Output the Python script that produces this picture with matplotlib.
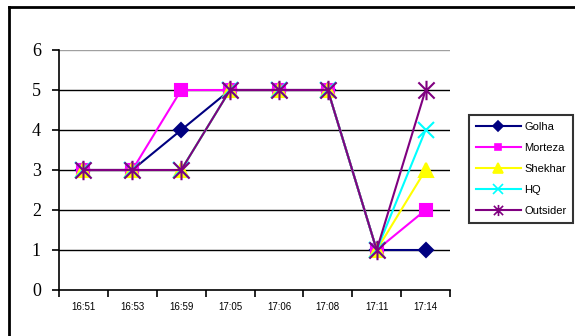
import matplotlib.pyplot as plt
from matplotlib.lines import Line2D
from matplotlib.path import Path


TIMES = ["16:51", "16:53", "16:59", "17:05", "17:06", "17:08", "17:11", "17:14"]

GOLHA = [3, 3, 4, 5, 5, 5, 1, 1]
MORTEZA = [3, 3, 5, 5, 5, 5, 1, 2]
SHEKHAR = [3, 3, 3, 5, 5, 5, 1, 3]
HQ = [3, 3, 3, 5, 5, 5, 1, 4]
OUTSIDER = [3, 3, 3, 5, 5, 5, 1, 5]

SERIES_NAMES = ["Golha", "Morteza", "Shekhar", "HQ", "Outsider"]

# x with a vertical bar through it
STAR = Path(
    [(-1, -1), (1, 1), (-1, 1), (1, -1), (0, -1.2), (0, 1.2)],
    [Path.MOVETO, Path.LINETO, Path.MOVETO, Path.LINETO, Path.MOVETO, Path.LINETO],
)


def main() -> None:
    fig = plt.figure(figsize=(5.75, 3.36), dpi=100)
    ax = fig.add_axes([59 / 575, 1 - 290 / 336, 391 / 575, 240 / 336])

    # outer frame, only top and left edges are visible
    fig.add_artist(Line2D([9 / 575, 9 / 575], [0, 1 - 7 / 336],
                          transform=fig.transFigure, color="black", lw=2))
    fig.add_artist(Line2D([9 / 575, 1], [1 - 7 / 336, 1 - 7 / 336],
                          transform=fig.transFigure, color="black", lw=2))

    x = list(range(len(TIMES)))
    styles = [
        (GOLHA, "#000080", "D", 7, 5),
        (MORTEZA, "#FF00FF", "s", 8.5, 5),
        (SHEKHAR, "#FFFF00", "^", 10, 7),
        (HQ, "#00FFFF", "x", 11, 7),
        (OUTSIDER, "#800080", STAR, 14, 8),
    ]
    handles = []
    for (vals, color, marker, ms, legend_ms), name in zip(styles, SERIES_NAMES):
        ax.plot(x, vals, color=color, marker=marker, markersize=ms,
                markeredgewidth=1.5, lw=1.5, zorder=3)
        handles.append(Line2D([], [], color=color, marker=marker,
                              markersize=legend_ms, markeredgewidth=1.2,
                              lw=1.5, label=name))

    ax.set_xlim(-0.5, len(TIMES) - 0.5)
    ax.set_ylim(0, 6)

    for y in range(1, 6):
        ax.axhline(y, color="black", lw=1, zorder=1)
    ax.axhline(6, color="#a0a0a0", lw=1, zorder=1)

    for side in ["top", "right"]:
        ax.spines[side].set_visible(False)
    ax.spines["left"].set_linewidth(1.2)
    ax.spines["bottom"].set_linewidth(1.2)

    ax.set_yticks(range(0, 7))
    ax.set_yticklabels([str(v) for v in range(0, 7)],
                       family="Liberation Serif", fontsize=13)
    ax.tick_params(axis="y", length=5, width=1.2, pad=8)

    ax.set_xticks([i - 0.5 for i in range(len(TIMES) + 1)])
    ax.set_xticklabels([])
    ax.set_xticks(x, minor=True)
    ax.set_xticklabels(TIMES, minor=True, family="Liberation Sans", fontsize=7)
    ax.tick_params(axis="x", which="major", length=5, width=1.2)
    ax.tick_params(axis="x", which="minor", length=0, pad=9)

    leg = fig.legend(handles=handles, loc="upper left",
                     bbox_to_anchor=(469 / 575, 1 - 115 / 336),
                     prop={"family": "Liberation Sans", "size": 8},
                     frameon=True, fancybox=False, borderpad=0.6,
                     labelspacing=1.0, handlelength=4.1, handletextpad=0.3,
                     borderaxespad=0)
    leg.get_frame().set_edgecolor("black")
    leg.get_frame().set_linewidth(1.5)

    fig.savefig("out.png", dpi=100)


if __name__ == "__main__":
    main()
